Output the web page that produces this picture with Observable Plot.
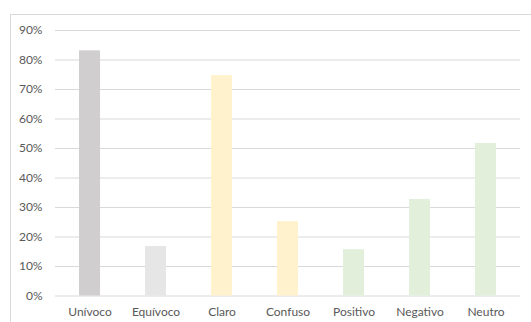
<!DOCTYPE html>
<html>
<head>
<meta charset="utf-8">
<script src="https://cdn.jsdelivr.net/npm/d3@7"></script>
<script src="https://cdn.jsdelivr.net/npm/@observablehq/plot@0.6"></script>
<style>
  html, body { margin: 0; padding: 0; background: #fff; overflow: hidden; }
  #wrap { position: relative; width: 531px; height: 322px; }
  #frame { position: absolute; left: 10px; top: 14px; width: 700px; height: 400px;
           border-left: 1px solid #d9d9d9; border-top: 1px solid #d9d9d9; box-sizing: border-box; }
  #chart { position: absolute; left: 0; top: 0; }
</style>
</head>
<body>
<div id="wrap"><div id="frame"></div><div id="chart"></div></div>
<script>
const categories = ["Unívoco", "Equívoco", "Claro", "Confuso", "Positivo", "Negativo", "Neutro"];
const values = [0.831, 0.168, 0.747, 0.252, 0.157, 0.327, 0.517];
const barColors = ["#d0cece", "#e7e6e6", "#fff2cc", "#fff2cc", "#e2efda", "#e2efda", "#e2efda"];
const yTicks = [0, 0.1, 0.2, 0.3, 0.4, 0.5, 0.6, 0.7, 0.8, 0.9];

const data = categories.map((c, i) => ({category: c, value: values[i], color: barColors[i]}));

const chart = Plot.plot({
  width: 531,
  height: 322,
  marginLeft: 55,
  marginRight: 11,
  marginTop: 30,
  marginBottom: 26.5,
  style: {fontFamily: "Lato, 'Liberation Sans', sans-serif", fontSize: "12px", color: "#595959", background: "transparent"},
  x: {domain: categories, paddingInner: 0.684, paddingOuter: 0.342, label: null},
  y: {domain: [0, 0.9], label: null},
  marks: [
    Plot.gridY(yTicks, {stroke: "#d9d9d9", strokeOpacity: 1}),
    Plot.barY(data, {x: "category", y: "value", fill: "color"}),
    Plot.axisY({ticks: yTicks, tickFormat: d => Math.round(d * 100) + "%", tickSize: 0, tickPadding: 13, label: null, fill: "#595959"}),
    Plot.axisX({tickSize: 0, tickPadding: 11, label: null, fill: "#595959"})
  ]
});
document.getElementById("chart").appendChild(chart);
</script>
</body>
</html>
